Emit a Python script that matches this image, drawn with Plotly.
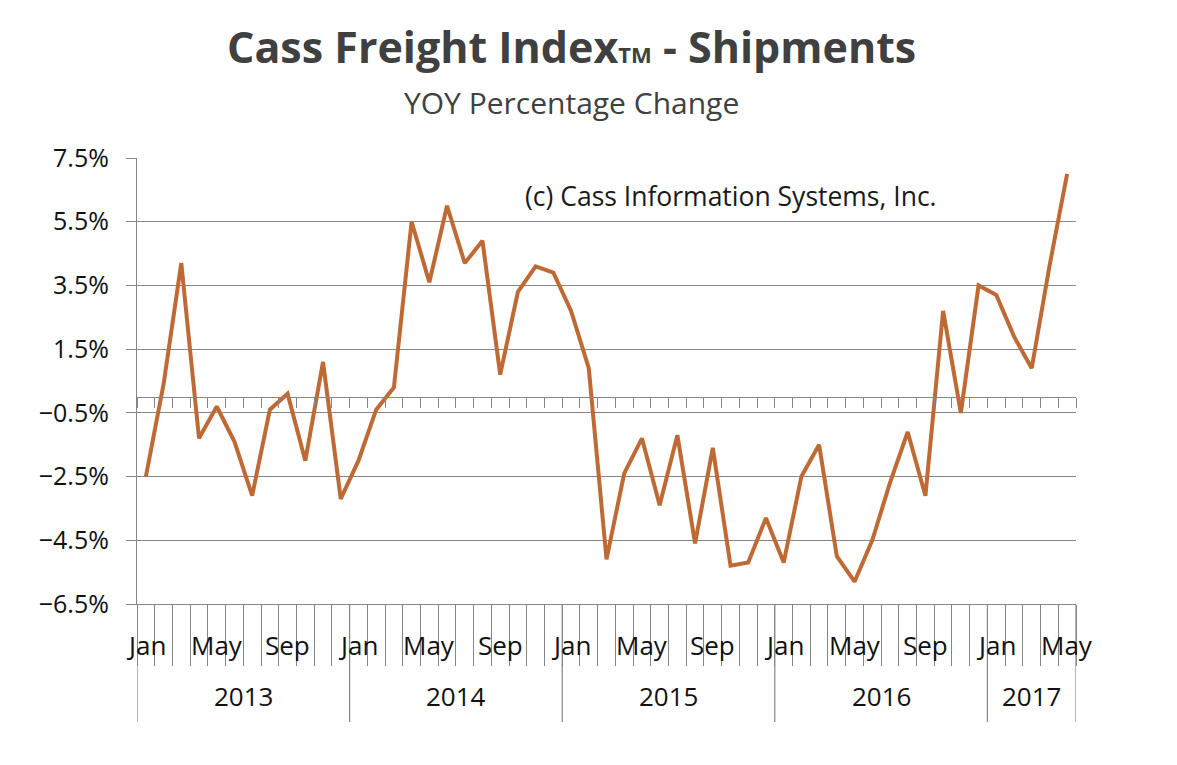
import plotly.graph_objects as go

# Cass Freight Index - Shipments, YOY % change, Jan 2013 .. May 2017
month_names = ["Jan", "Feb", "Mar", "Apr", "May", "Jun",
               "Jul", "Aug", "Sep", "Oct", "Nov", "Dec"]
years = [2013, 2014, 2015, 2016, 2017]
months_in_year = [12, 12, 12, 12, 5]
labelled_months = ["Jan", "May", "Sep"]

yoy_change = [
    -2.5, 0.4, 4.2, -1.3, -0.3, -1.4, -3.1, -0.4, 0.1, -2.0, 1.1, -3.2,   # 2013
    -2.0, -0.4, 0.3, 5.5, 3.6, 6.0, 4.2, 4.9, 0.7, 3.3, 4.1, 3.9,        # 2014
    2.7, 0.9, -5.1, -2.4, -1.3, -3.4, -1.2, -4.6, -1.6, -5.3, -5.2, -3.8, # 2015
    -5.2, -2.5, -1.5, -5.0, -5.8, -4.5, -2.7, -1.1, -3.1, 2.7, -0.5, 3.5, # 2016
    3.2, 1.9, 0.9, 4.1, 7.0,                                              # 2017
]

periods = []
for yr, n in zip(years, months_in_year):
    for m in month_names[:n]:
        periods.append((yr, m))

n_months = len(yoy_change)
x_pos = [i + 0.5 for i in range(n_months)]

grey = "#868686"
text_col = "#404040"
font_family = "'Open Sans', sans-serif"

fig = go.Figure()
fig.add_trace(go.Scatter(
    x=x_pos, y=yoy_change, mode="lines",
    line=dict(color="#BF6A35", width=4),
    hoverinfo="skip", showlegend=False,
))

# month labels and year labels under the plot
annotations = []
for i, (yr, m) in enumerate(periods):
    if m in labelled_months:
        annotations.append(dict(
            x=i + 0.5, xref="x", y=0, yref="paper", yanchor="middle",
            yshift=-41, text=m, showarrow=False,
            font=dict(size=26, color="#111111", family=font_family)))

start = 0
year_edges = [0]
for yr, n in zip(years, months_in_year):
    annotations.append(dict(
        x=start + n / 2, xref="x", y=0, yref="paper", yanchor="middle",
        yshift=-92, text=str(yr), showarrow=False,
        font=dict(size=26, color="#111111", family=font_family)))
    start += n
    year_edges.append(start)

annotations.append(dict(
    x=0.633, xref="paper", y=0.915, yref="paper", yanchor="middle",
    text="(c) Cass Information Systems, Inc.",
    showarrow=False, font=dict(size=26.5, color="#1a1a1a", family=font_family)))

annotations.append(dict(
    x=0.463, xref="paper", y=1, yref="paper", yanchor="middle", yshift=112,
    text="<b>Cass Freight Index<span style='font-size:22px'>TM</span> - Shipments</b>",
    showarrow=False, font=dict(size=43, color=text_col, family=font_family)))
annotations.append(dict(
    x=0.463, xref="paper", y=1, yref="paper", yanchor="middle", yshift=56,
    text="YOY Percentage Change",
    showarrow=False, font=dict(size=30, color=text_col, family=font_family)))

shapes = []
for e in year_edges:
    shapes.append(dict(
        type="line", xref="x", x0=e, x1=e, yref="paper",
        ysizemode="pixel", yanchor=0, y0=0, y1=-118,
        line=dict(color=grey, width=1.2)))

y_min, y_max = -6.5, 7.5

fig.update_layout(
    width=1177, height=765,
    margin=dict(l=129, r=109, t=150, b=169),
    plot_bgcolor="white", paper_bgcolor="white",
    font=dict(family=font_family, color="#111111"),
    annotations=annotations, shapes=shapes,
    xaxis=dict(
        range=[0, n_months], tickvals=list(range(n_months + 1)),
        showticklabels=False, ticks="outside", ticklen=61, tickwidth=1,
        tickcolor=grey, showline=True, linecolor=grey, linewidth=1.2,
        showgrid=False, zeroline=False,
    ),
    xaxis2=dict(
        overlaying="x", anchor="free",
        position=(0 - y_min) / (y_max - y_min),
        range=[0, n_months], tickvals=list(range(n_months + 1)),
        showticklabels=False, ticks="outside", ticklen=10, tickwidth=1,
        tickcolor=grey, showline=True, linecolor=grey, linewidth=1.2,
        showgrid=False, zeroline=False,
    ),
    yaxis=dict(
        range=[y_min, y_max], tick0=y_min, dtick=2,
        tickformat=".1f", ticksuffix="%",
        ticks="outside", ticklen=10, tickcolor=grey,
        ticklabelstandoff=12,
        showline=True, linecolor=grey, linewidth=1.2,
        showgrid=True, gridcolor=grey, gridwidth=1.2, zeroline=False,
        tickfont=dict(size=25, color="#111111", family=font_family),
    ),
)

# empty trace so the zero-line tick axis (xaxis2) is drawn
fig.add_trace(go.Scatter(x=[None], y=[None], xaxis="x2", showlegend=False,
                         hoverinfo="skip"))

fig.write_html("out.html")
